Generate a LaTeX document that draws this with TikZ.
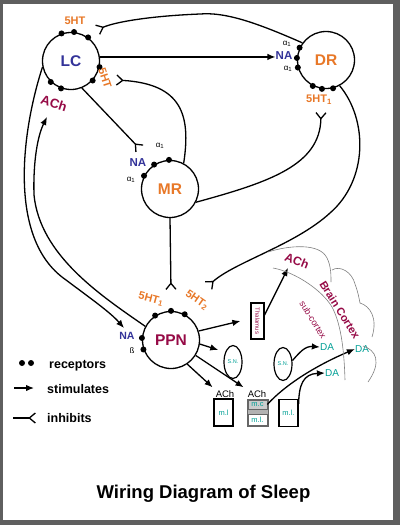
\documentclass[tikz,border=0pt]{standalone}
\usepackage{fontspec}
\setmainfont{Liberation Sans}
\usepackage{tikz}
\usetikzlibrary{arrows.meta}
\usetikzlibrary{positioning}
\usetikzlibrary{calc}
\usepgflibrary{shapes.geometric}
\definecolor{lcblue}{RGB}{51,51,153}
\definecolor{htorange}{RGB}{232,120,40}
\definecolor{achred}{RGB}{150,10,70}
\definecolor{dateal}{RGB}{0,160,150}
\definecolor{framegray}{RGB}{95,95,95}

\begin{document}
\begin{tikzpicture}[x=1pt,y=-1pt,
  nucleus/.style={circle, draw, line width=1.3pt, fill=white, minimum size=57pt,
    inner sep=0pt, font=\bfseries\fontsize{15.5}{16}\selectfont},
  rcp/.style={circle, fill=black, inner sep=0pt, minimum size=6pt},
  ht/.style={text=htorange, inner sep=0pt, font=\bfseries\fontsize{11}{11}\selectfont},
  na/.style={text=lcblue, inner sep=0pt, font=\bfseries\fontsize{11.5}{12}\selectfont},
  alf/.style={inner sep=0pt, font=\fontsize{8}{8}\selectfont},
  achl/.style={inner sep=0pt, font=\fontsize{9.5}{10}\selectfont},
  da/.style={text=dateal, inner sep=0pt, font=\fontsize{10}{10}\selectfont},
  snell/.style={ellipse, draw, line width=1.2pt, minimum width=18pt, minimum height=33pt,
    inner sep=0pt, text=dateal, font=\fontsize{5.5}{6}\selectfont},
  mbox/.style={rectangle, draw, line width=1.2pt, minimum width=19pt, minimum height=27pt,
    inner sep=0pt, text=dateal, font=\fontsize{7.5}{8}\selectfont},
  lgd/.style={inner sep=0pt, font=\bfseries\fontsize{12.5}{13}\selectfont},
  stim/.style={-{Latex[length=8pt,width=6.5pt]}, line width=1.3pt},
  inh/.style={-{Straight Barb[reversed,length=6pt,width=10pt]}, line width=1.3pt},
  cortex/.style={draw=gray, line width=.6pt}]

\fill[framegray] (0,0) rectangle (400,525);
\fill[white] (3,4) rectangle (393,520);
\useasboundingbox (0,0) rectangle (400,525);

  \node[nucleus, text=lcblue] at (71,61) (LC) {LC};
  \node[nucleus, text=htorange] at (326,60) (DR) {DR};
  \node[nucleus, text=htorange] at (170,189) (MR) {MR};
  \node[nucleus, text=achred] at (171,340) (PPN) {PPN};

\foreach \a [count=\i] in {109,84,54,-12,-42,-134,-110}
  \node[rcp] (LCr\i) at (LC.\a) {};
\foreach \a [count=\i] in {155,176,195,-117,-98,-76}
  \node[rcp] (DRr\i) at (DR.\a) {};
\foreach \a [count=\i] in {153,123,92}
  \node[rcp] (MRr\i) at (MR.\a) {};
\foreach \a [count=\i] in {123,90,62,176,199}
  \node[rcp] (PPNr\i) at (PPN.\a) {};

  \node[ht] (LCht1) at (75,21) {5HT};
  \node[ht, rotate=-72] (LCht2) at (105,78) {5HT};
  \node[text=achred, inner sep=0pt, font=\bfseries\fontsize{13}{13}\selectfont, rotate=-18]
  (LCach) at (54,103) {ACh};
  \node[na] (DRna) at (284,56) {NA};
  \node[alf] (DRa1) at (287,44) {α\textsubscript{1}};
  \node[alf] (DRa2) at (288,69) {α\textsubscript{1}};
  \node[ht] (DRht) at (319,100) {5HT\textsubscript{1}};
  \node[na] (MRna) at (138,163) {NA};
  \node[alf] (MRa1) at (160,146) {α\textsubscript{1}};
  \node[alf] (MRa2) at (131,180) {α\textsubscript{1}};
  \node[ht, rotate=-15] (PPNht1) at (151,299) {5HT\textsubscript{1}};
  \node[ht, rotate=-35] (PPNht2) at (197,300) {5HT\textsubscript{2}};
  \node[na, font=\bfseries\fontsize{10.5}{11}\selectfont] (PPNna) at (127,336) {NA};
  \node[alf] (PPNb) at (132,351) {ß};

  \node[draw, line width=1.2pt, minimum width=13pt, minimum height=36pt, inner sep=0pt,
  text=achred, font=\fontsize{6}{6}\selectfont] at (257.5,321) (thal) {\rotatebox{-90}{Thalamus}};
  \node[text=achred, inner sep=0pt, font=\bfseries\fontsize{12}{12}\selectfont, rotate=-22]
  at (297,261) (cxach) {ACh};
  \node[snell] at (233,362) (SN1) {S.N.};
  \node[snell] at (283,364) (SN2) {S.N.};
  \node[achl] at (225,394) (ACh1) {ACh};
  \node[achl] at (257,394) (ACh2) {ACh};
  \node[mbox] at (223.5,412.5) (ml1) {m.l};
  \node[draw=gray!80!black, fill=gray!60, line width=1pt, minimum width=21pt,
  minimum height=27pt, inner sep=0pt] at (257.5,412.5) (mcl) {};
  \node[draw=gray!80!black, fill=gray!40, line width=.6pt, minimum width=19pt,
  minimum height=9pt, inner sep=0pt, text=dateal, font=\fontsize{7.5}{8}\selectfont]
  at (257.5,404.5) (mc) {m.c};
  \node[draw=gray!80!black, fill=white, line width=.8pt, minimum width=19pt,
  minimum height=11pt, inner sep=0pt, text=dateal, font=\fontsize{7.5}{8}\selectfont]
  at (257.5,419.5) (ml2) {m.l.};
  \node[mbox] at (288.5,413) (ml3) {m.l.};
  \node[da] at (327,347) (DA1) {DA};
  \node[da] at (362,349) (DA2) {DA};
  \node[da] at (332,373) (DA3) {DA};
  \node[text=achred, inner sep=0pt, font=\bfseries\fontsize{11}{11}\selectfont, rotate=-58]
  at (340,310) (brain) {Brain Cortex};
  \node[text=achred, inner sep=0pt, font=\fontsize{9}{9}\selectfont, rotate=-58]
  at (313,320) (subcx) {sub-cortex};

\coordinate (LCin1) at (97,30);
\coordinate (LCin2) at (116,80);
\coordinate (LCacht) at (47,117);
\coordinate (MRin) at (140,149);
\coordinate (DRin) at (321,112);
\coordinate (PPNin1) at (171,290);
\coordinate (PPNin2) at (208,286);
\coordinate (PPNnat) at (124,328);
\coordinate (cxacht) at (288,268);

\draw[stim] (LC.8) -- (LC.8 -| DRna.west);
\draw[inh] (DR.144) .. controls (255,22) and (225,12) .. (200,14)
  .. controls (150,16) and (115,22) .. (LCin1);
\draw[inh] (LC.-68) -- (MRin);
\draw[inh] (MR.62) .. controls (191,115) and (182,84) .. (LCin2);
\draw[inh] (MR.-27) .. controls (270,182) and (320,165) .. (DRin);
\draw[inh] (DR.-62) .. controls (368,120) and (368,180) .. (330,213)
  .. controls (295,245) and (235,262) .. (PPNin2);
\draw[inh] (MR.south) -- (PPNin1);
\draw[stim] (LC.-168) .. controls (22,130) and (8,235) .. (62,277)
  .. controls (90,298) and (110,312) .. (PPNnat);
\draw[stim] (PPN.152) .. controls (100,295) and (40,255) .. (34,195)
  .. controls (33,160) and (38,135) .. (LCacht);

\draw[stim] (PPN.18) -- ([xshift=-10pt]thal.west);
\draw[stim] ([yshift=6pt]thal.east) -- (cxacht);
\draw[stim] (PPN.-8) -- ([xshift=-8pt]SN1.north west);
\draw[stim] (PPN.-56) -- ([xshift=-3pt,yshift=3pt]ACh1.north west);
\draw[stim] (PPN.-32) -- ([xshift=-4pt,yshift=3pt]ACh2.north west);
\draw[stim] (SN2.20) .. controls (300,352) and (305,346) .. (DA1.west);
\draw[stim] (mc.east) .. controls (285,385) and (315,366) .. (DA2.west);
\draw[stim] ([yshift=-5pt]ml3.north east) .. controls (299,385) and (303,374) .. (DA3.west);

\path[cortex] (273,268) .. controls (295,272) and (322,290) .. (332,307)
  .. controls (340,322) and (344,345) .. (345,380);
\path[cortex] (268,252) .. controls (290,245) and (320,243) .. (327,258)
  .. controls (331,266) and (331,275) .. (331,282);
\path[cortex] (332,270) .. controls (340,265) and (352,272) .. (355,284)
  .. controls (358,292) and (359,298) .. (360,303);
\path[cortex] (360,303) .. controls (370,306) and (378,318) .. (372,337);
\path[cortex] (363,346) .. controls (376,350) and (382,362) .. (368,382);

  \node[rcp] at (22,363) (lgr1) {};
  \node[rcp] at (31,363) (lgr2) {};
\coordinate (lgs1) at (14,388);
\coordinate (lgs2) at (34,388);
\coordinate (lgi1) at (13,418);
\coordinate (lgi2) at (36,418);
\draw[stim] (lgs1) -- (lgs2);
\draw[inh] (lgi1) -- (lgi2);
\node[lgd, anchor=base west] at (49,368) (lgt1) {receptors};
\node[lgd, anchor=base west] at (47,393) (lgt2) {stimulates};
\node[lgd, anchor=base west] at (47,422) (lgt3) {inhibits};

\node[inner sep=0pt, anchor=base, font=\bfseries\fontsize{18.5}{19}\selectfont]
  at (203.5,498) (title) {Wiring Diagram of Sleep};

\end{tikzpicture}
\end{document}
